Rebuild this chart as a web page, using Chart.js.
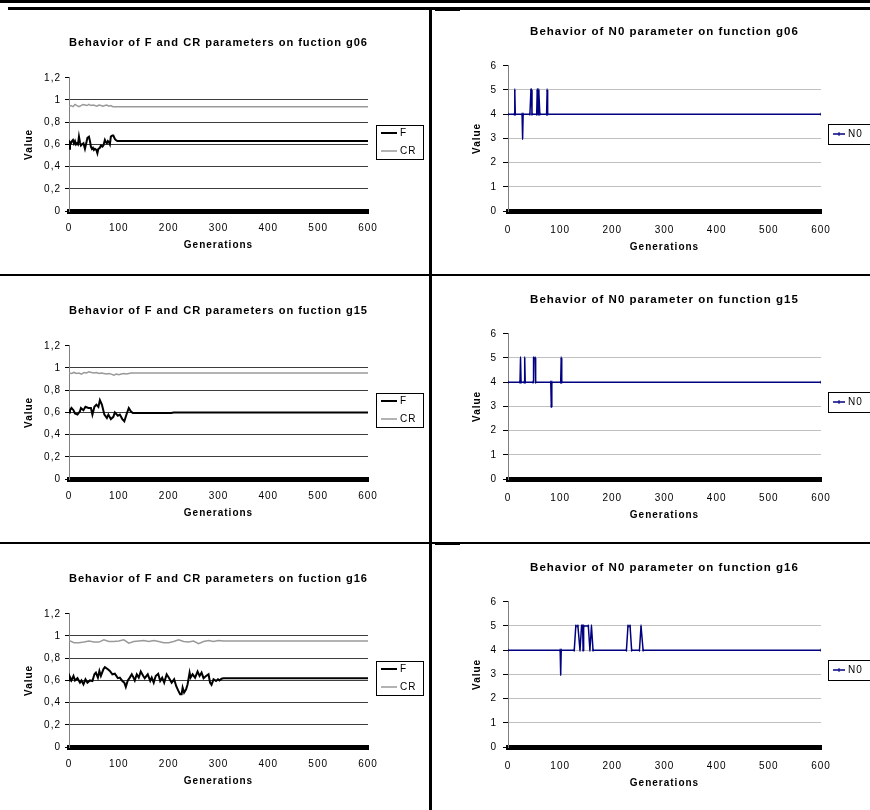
<!DOCTYPE html>
<html>
<head>
<meta charset="utf-8">
<script src="https://cdn.jsdelivr.net/npm/chart.js@4"></script>
<style>
  body { margin: 0; background: #fff; }
  #page { position: relative; width: 870px; height: 810px; overflow: hidden; background: #fff; }
  #page canvas { position: absolute; }
  .rule { position: absolute; background: #000; }
</style>
</head>
<body>
<div id="page">
  <canvas id="fcr06" width="430" height="262" style="left:0;top:10px"></canvas>
  <canvas id="n006" width="435" height="262" style="left:435px;top:10px"></canvas>
  <canvas id="fcr15" width="430" height="262" style="left:0;top:278px"></canvas>
  <canvas id="n015" width="435" height="262" style="left:435px;top:278px"></canvas>
  <canvas id="fcr16" width="430" height="262" style="left:0;top:546px"></canvas>
  <canvas id="n016" width="435" height="262" style="left:435px;top:546px"></canvas>

  <!-- frame lines of the page -->
  <div class="rule" style="left:0;top:0;width:870px;height:3px"></div>
  <div class="rule" style="left:8px;top:7px;width:862px;height:3px"></div>
  <div class="rule" style="left:435px;top:9px;width:25px;height:2px"></div>
  <div class="rule" style="left:429px;top:7px;width:3px;height:803px"></div>
  <div class="rule" style="left:0;top:274px;width:870px;height:2px"></div>
  <div class="rule" style="left:0;top:542px;width:870px;height:2px"></div>
  <div class="rule" style="left:435px;top:542px;width:25px;height:3px"></div>
</div>
<script>
// generations where a value was read, and the value read there
const g06FGen = [0, 2, 4, 6, 8, 10, 12, 14, 16, 18, 20, 22, 24, 26, 29, 32, 35, 37, 40, 42, 44, 46, 48, 50, 52, 55, 57, 59, 62, 64, 67, 69, 72, 74, 76, 78, 80, 82, 84, 87, 89, 92, 94, 97, 100, 600];
const g06F = [0.56, 0.62, 0.61, 0.63, 0.64, 0.61, 0.63, 0.60, 0.61, 0.60, 0.67, 0.62, 0.59, 0.60, 0.61, 0.56, 0.62, 0.66, 0.67, 0.63, 0.58, 0.56, 0.57, 0.55, 0.56, 0.55, 0.52, 0.56, 0.57, 0.59, 0.58, 0.59, 0.64, 0.62, 0.61, 0.63, 0.62, 0.60, 0.67, 0.68, 0.68, 0.65, 0.64, 0.63, 0.63, 0.63];
const g06CRGen = [0, 4, 8, 12, 16, 20, 24, 28, 32, 36, 40, 44, 48, 52, 56, 60, 64, 68, 72, 76, 80, 84, 88, 92, 600];
const g06CR = [0.94, 0.95, 0.94, 0.96, 0.95, 0.94, 0.95, 0.96, 0.955, 0.95, 0.96, 0.95, 0.955, 0.95, 0.945, 0.955, 0.95, 0.945, 0.95, 0.955, 0.945, 0.95, 0.94, 0.94, 0.94];

const g15FGen = [0, 2, 5, 9, 12, 17, 22, 24, 29, 33, 39, 44, 47, 51, 55, 59, 62, 66, 71, 76, 79, 84, 89, 92, 98, 102, 107, 111, 116, 120, 124, 128, 205, 210, 600];
const g15F = [0.60, 0.62, 0.64, 0.62, 0.59, 0.58, 0.61, 0.64, 0.62, 0.65, 0.64, 0.64, 0.58, 0.65, 0.67, 0.65, 0.71, 0.67, 0.58, 0.55, 0.58, 0.54, 0.56, 0.60, 0.57, 0.58, 0.54, 0.52, 0.59, 0.64, 0.61, 0.595, 0.595, 0.60, 0.60];
const g15CRGen = [0, 5, 10, 15, 20, 25, 30, 35, 40, 45, 50, 55, 60, 65, 70, 75, 80, 85, 90, 95, 100, 105, 110, 115, 120, 125, 600];
const g15CR = [0.955, 0.95, 0.96, 0.95, 0.955, 0.945, 0.96, 0.955, 0.965, 0.96, 0.955, 0.96, 0.95, 0.955, 0.95, 0.945, 0.95, 0.945, 0.935, 0.945, 0.94, 0.945, 0.95, 0.945, 0.95, 0.955, 0.955];

const g16FGen = [0, 2, 5, 9, 12, 17, 22, 25, 29, 33, 37, 42, 47, 51, 54, 58, 61, 64, 69, 72, 78, 82, 87, 92, 98, 102, 107, 111, 114, 118, 122, 126, 129, 132, 136, 140, 144, 149, 152, 158, 163, 166, 170, 174, 179, 183, 187, 191, 196, 201, 206, 211, 215, 219, 223, 226, 228, 231, 235, 238, 242, 244, 248, 253, 258, 262, 266, 270, 275, 280, 283, 286, 290, 295, 299, 302, 306, 310, 600];
const g16F = [0.60, 0.63, 0.60, 0.64, 0.60, 0.62, 0.58, 0.60, 0.565, 0.61, 0.58, 0.60, 0.595, 0.655, 0.67, 0.625, 0.685, 0.64, 0.70, 0.72, 0.70, 0.685, 0.655, 0.66, 0.62, 0.625, 0.595, 0.58, 0.54, 0.60, 0.625, 0.655, 0.63, 0.60, 0.655, 0.625, 0.68, 0.64, 0.62, 0.655, 0.595, 0.625, 0.58, 0.64, 0.66, 0.595, 0.625, 0.58, 0.655, 0.62, 0.58, 0.61, 0.55, 0.51, 0.475, 0.475, 0.535, 0.49, 0.52, 0.565, 0.67, 0.625, 0.655, 0.625, 0.68, 0.64, 0.67, 0.62, 0.64, 0.655, 0.58, 0.56, 0.61, 0.595, 0.61, 0.60, 0.615, 0.62, 0.62];
const g16CRGen = [0, 10, 20, 30, 40, 50, 60, 70, 80, 90, 100, 110, 120, 130, 140, 150, 160, 170, 180, 190, 200, 210, 220, 230, 240, 250, 260, 270, 280, 290, 300, 310, 600];
const g16CR = [0.96, 0.94, 0.94, 0.945, 0.955, 0.945, 0.945, 0.965, 0.95, 0.95, 0.955, 0.965, 0.935, 0.95, 0.955, 0.96, 0.95, 0.96, 0.95, 0.94, 0.94, 0.95, 0.965, 0.95, 0.945, 0.955, 0.93, 0.95, 0.96, 0.95, 0.96, 0.955, 0.955];

const n0g06Gen = [0, 12, 13, 14, 27, 28, 29, 42, 44, 45, 46, 55, 56, 57, 58, 59, 61, 74, 75, 76, 600];
const n0g06 = [4, 4, 5, 4, 4, 3, 4, 4, 5, 5, 4, 4, 5, 5, 4, 5, 4, 4, 5, 4, 4];
const n0g15Gen = [0, 23, 24, 25, 31, 32, 33, 48, 49, 52, 53, 82, 83, 84, 101, 102, 103, 600];
const n0g15 = [4, 4, 5, 4, 4, 5, 4, 4, 5, 5, 4, 4, 3, 4, 4, 5, 4, 4];
const n0g16Gen = [0, 100, 101, 102, 127, 130, 134, 138, 141, 143, 144, 145, 154, 157, 160, 163, 227, 230, 234, 237, 252, 255, 259, 600];
const n0g16 = [4, 4, 3, 4, 4, 5, 5, 4, 5, 5, 4, 5, 5, 4, 5, 4, 4, 5, 5, 4, 4, 5, 4, 4];

const genTicks = [0, 100, 200, 300, 400, 500, 600];

const FONT = "'Liberation Sans', Arial, sans-serif";
Chart.defaults.font.family = FONT;
Chart.defaults.color = '#000';

function points(gens, vals) {
    return gens.map((g, i) => ({ x: g, y: vals[i] }));
}

// Excel-like wide spacing of the letters
const spacing = {
    id: 'spacing',
    beforeDraw(chart) {
        chart.ctx.letterSpacing = '1px';
    }
};

// legend in a framed box right of the plot
const boxLegend = {
    id: 'boxLegend',
    afterDraw(chart, args, opts) {
        const { ctx, chartArea } = chart;
        const x = Math.round(chartArea.right + opts.dx);
        const y = Math.round(chartArea.top + opts.dy);
        ctx.save();
        ctx.strokeStyle = '#000';
        ctx.lineWidth = 1;
        ctx.strokeRect(x + 0.5, y + 0.5, opts.w, opts.h);
        ctx.font = '10px ' + FONT;
        ctx.fillStyle = '#000';
        ctx.textBaseline = 'middle';
        chart.data.datasets.forEach((ds, i) => {
            const ly = y + opts.rowTop + i * opts.rowGap;
            ctx.strokeStyle = ds.borderColor;
            ctx.lineWidth = ds.borderWidth;
            ctx.beginPath();
            ctx.moveTo(x + 5, ly);
            ctx.lineTo(x + 5 + opts.lineLen, ly);
            ctx.stroke();
            if (opts.marker) {
                const mx = x + 5 + opts.lineLen / 2;
                ctx.lineWidth = 1;
                ctx.beginPath();
                ctx.moveTo(mx, ly - 2);
                ctx.lineTo(mx, ly + 2);
                ctx.stroke();
            }
            ctx.fillText(ds.label, x + 8 + opts.lineLen, ly);
        });
        ctx.restore();
    }
};

function makeChart(id, title, datasets, y, look) {
    new Chart(document.getElementById(id), {
        type: 'line',
        data: { datasets: datasets },
        options: {
            responsive: false,
            animation: false,
            events: [],
            layout: { padding: { left: look.padLeft, right: look.padRight, top: look.padTop, bottom: 0 } },
            elements: { line: { tension: 0 } },
            plugins: {
                legend: { display: false },
                tooltip: { enabled: false },
                title: {
                    display: true,
                    fullSize: false,
                    text: title,
                    color: '#000',
                    font: { size: 11.5, weight: 'bold' },
                    padding: { top: 0, bottom: look.titleGap }
                },
                boxLegend: look.legend
            },
            scales: {
                x: {
                    type: 'linear',
                    min: 0,
                    max: 600,
                    afterBuildTicks: axis => { axis.ticks = genTicks.map(v => ({ value: v })); },
                    afterFit: axis => { axis.height = 61; },
                    grid: { display: false, drawTicks: false },
                    border: { display: true, color: '#000', width: 5 },
                    ticks: { padding: look.xTickPad, maxRotation: 0, autoSkip: false, font: { size: 10 } },
                    title: {
                        display: true,
                        text: 'Generations',
                        font: { size: 10, weight: 'bold' },
                        padding: { top: 0, bottom: look.xTitlePad }
                    }
                },
                y: {
                    min: 0,
                    max: y.max,
                    afterBuildTicks: axis => { axis.ticks = y.ticks.map(v => ({ value: v })); },
                    afterFit: axis => { axis.width = look.yWidth; },
                    grid: {
                        color: c => (c.tick && c.tick.value === y.max) ? 'rgba(0,0,0,0)' : look.gridColor,
                        tickColor: '#000',
                        tickLength: look.tickLen,
                        lineWidth: 1
                    },
                    border: { display: true, color: '#808080', width: 1 },
                    ticks: {
                        padding: look.yTickPad,
                        font: { size: 10 },
                        callback: v => String(Math.round(v * 10) / 10).replace('.', ',')
                    },
                    title: {
                        display: true,
                        text: 'Value',
                        font: { size: 10, weight: 'bold' },
                        padding: { top: 0, bottom: 0 }
                    }
                }
            }
        },
        plugins: [spacing, boxLegend]
    });
}

const paramAxis = { max: 1.2, ticks: [0, 0.2, 0.4, 0.6, 0.8, 1, 1.2] };
const n0Axis = { max: 6, ticks: [0, 1, 2, 3, 4, 5, 6] };

const paramLook = {
    padLeft: 23, padRight: 62, padTop: 26, titleGap: 28,
    yWidth: 46, tickLen: 4, yTickPad: 4, xTickPad: 11, xTitlePad: 21,
    gridColor: '#3c3c3c',
    legend: { dx: 8, dy: 47, w: 47, h: 34, rowTop: 8, rowGap: 18, lineLen: 16, marker: false }
};
const n0Look = {
    padLeft: 36, padRight: 49, padTop: 15, titleGap: 27,
    yWidth: 37, tickLen: 5, yTickPad: 6, xTickPad: 13, xTitlePad: 19,
    gridColor: '#c0c0c0',
    legend: { dx: 7, dy: 58, w: 50, h: 20, rowTop: 10, rowGap: 0, lineLen: 12, marker: true }
};

function paramSets(fGen, fVal, crGen, crVal) {
    return [
        { label: 'F', data: points(fGen, fVal), borderColor: '#000', borderWidth: 2, pointRadius: 0 },
        { label: 'CR', data: points(crGen, crVal), borderColor: '#9a9a9a', borderWidth: 1.5, pointRadius: 0 }
    ];
}

function n0Sets(gens, vals) {
    return [
        { label: 'N0', data: points(gens, vals), borderColor: '#000080', borderWidth: 1.5,
          pointStyle: 'line', pointRotation: 90, pointRadius: 1.5, pointBorderColor: '#000080', pointBorderWidth: 1 }
    ];
}

makeChart('fcr06', 'Behavior of F and CR parameters on fuction g06', paramSets(g06FGen, g06F, g06CRGen, g06CR), paramAxis, paramLook);
makeChart('n006', 'Behavior of N0 parameter on function g06', n0Sets(n0g06Gen, n0g06), n0Axis, n0Look);
makeChart('fcr15', 'Behavior of F and CR parameters on fuction g15', paramSets(g15FGen, g15F, g15CRGen, g15CR), paramAxis, paramLook);
makeChart('n015', 'Behavior of N0 parameter on function g15', n0Sets(n0g15Gen, n0g15), n0Axis, n0Look);
makeChart('fcr16', 'Behavior of F and CR parameters on fuction g16', paramSets(g16FGen, g16F, g16CRGen, g16CR), paramAxis, paramLook);
makeChart('n016', 'Behavior of N0 parameter on function g16', n0Sets(n0g16Gen, n0g16), n0Axis, n0Look);
</script>
</body>
</html>
